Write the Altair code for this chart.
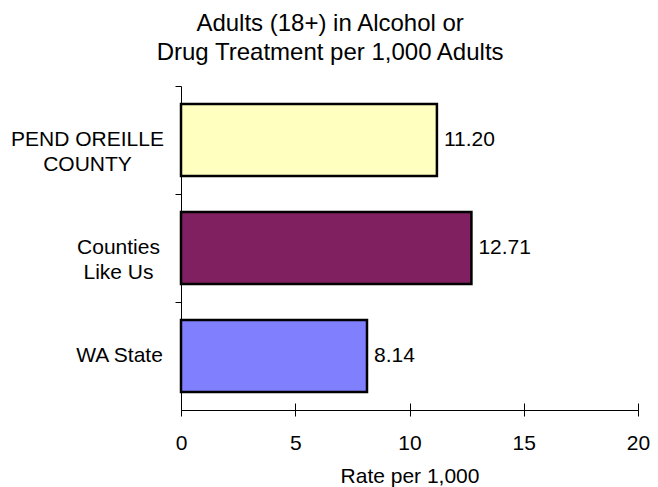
import altair as alt
import pandas as pd

categories = ["PEND OREILLE|COUNTY", "Counties|Like Us", "WA State"]
values = [11.20, 12.71, 8.14]
colors = ["#FFFFC0", "#802060", "#8080FF"]
x_ticks = [0, 5, 10, 15, 20]

df = pd.DataFrame({"cat": categories, "value": values})

FONT = "Liberation Sans"

y_scale = alt.Scale(domain=categories, paddingInner=0, paddingOuter=0)
x_scale = alt.Scale(domain=[0, 20], nice=False)

pad_expr = (
    "datum.value === 'PEND OREILLE|COUNTY' ? 88 : "
    "(datum.value === 'Counties|Like Us' ? 57 : 56)"
)

bars = alt.Chart(df).mark_bar(
    height=alt.RelativeBandSize(0.665), stroke="black", strokeWidth=2.5
).encode(
    x=alt.X(
        "value:Q",
        scale=x_scale,
        axis=alt.Axis(
            values=x_ticks,
            title="Rate per 1,000",
            tickSize=6,
            labelPadding=16.5,
            titlePadding=12,
            labelFlush=False,
            labelFontSize=21,
            titleFontSize=21,
            labelFont=FONT,
            titleFont=FONT,
            titleFontWeight="normal",
            labelColor="black",
            titleColor="black",
            domainColor="black",
            tickColor="black",
            grid=False,
        ),
    ),
    y=alt.Y(
        "cat:N",
        sort=categories,
        scale=y_scale,
        axis=alt.Axis(
            title=None,
            bandPosition=0,
            tickSize=6,
            labelExpr="split(datum.label, '|')",
            labelAlign="center",
            labelBaseline="middle",
            labelPadding=alt.ExprRef(pad_expr),
            labelLineHeight=25,
            labelFontSize=21,
            labelFont=FONT,
            labelColor="black",
            domainColor="black",
            tickColor="black",
            labelLimit=400,
        ),
    ),
    color=alt.Color("cat:N", scale=alt.Scale(domain=categories, range=colors), legend=None),
)

text = alt.Chart(df).mark_text(
    align="left", baseline="middle", dx=7, fontSize=21, font=FONT, color="black"
).encode(
    x=alt.X(
        "value:Q",
        scale=x_scale,
        axis=alt.Axis(
            orient="bottom",
            values=x_ticks,
            offset=-7,
            tickSize=7,
            domain=False,
            labels=False,
            title=None,
            tickColor="black",
            grid=False,
        ),
    ),
    y=alt.Y(
        "cat:N",
        sort=categories,
        scale=y_scale,
        axis=alt.Axis(
            orient="left",
            offset=-6,
            tickSize=6,
            bandPosition=0,
            domain=False,
            labels=False,
            title=None,
            tickColor="black",
        ),
    ),
    text=alt.Text("value:Q", format=".2f"),
)

chart = (
    alt.layer(bars, text)
    .resolve_scale(x="independent", y="independent")
    .properties(
        width=457,
        height=324,
        padding={"left": 2, "top": 3, "right": 0, "bottom": 0},
        title=alt.TitleParams(
            text=["Adults (18+) in Alcohol or", "Drug Treatment per 1,000 Adults"],
            fontSize=24,
            font=FONT,
            fontWeight="normal",
            lineHeight=29,
            anchor="middle",
            frame="bounds",
            offset=21,
            color="black",
        ),
    )
    .configure_view(stroke=None)
)

chart.save("out.html", embed_options={"renderer": "svg", "actions": False})
